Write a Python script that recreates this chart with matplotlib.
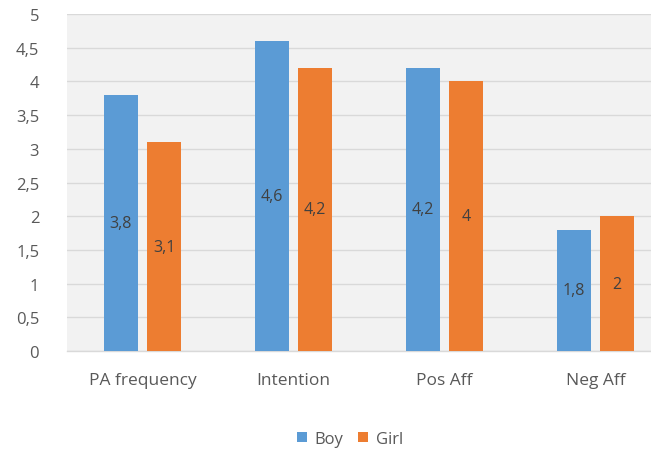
import matplotlib
matplotlib.use("Agg")
import matplotlib.pyplot as plt
import numpy as np

categories = ["PA frequency", "Intention", "Pos Aff", "Neg Aff"]
boy = [3.8, 4.6, 4.2, 1.8]
girl = [3.1, 4.2, 4.0, 2.0]
series_names = ["Boy", "Girl"]
y_ticks = [0, 0.5, 1, 1.5, 2, 2.5, 3, 3.5, 4, 4.5, 5]

def fmt(v):
    s = f"{v:g}"
    return s.replace(".", ",")

plt.rcParams["font.family"] = ["Open Sans", "DejaVu Sans"]

W, H = 651, 452
fig = plt.figure(figsize=(W / 100, H / 100), dpi=100)
fig.patch.set_facecolor("white")

left, right, top, bottom = 67, 671, 15, 352
ax = fig.add_axes([left / W, 1 - bottom / H, (right - left) / W, (bottom - top) / H])
ax.set_facecolor("#F2F2F2")

x = np.arange(len(categories))
w = 0.225
off = 0.1425
colors = ["#5B9BD5", "#ED7D31"]
b1 = ax.bar(x - off, boy, w, color=colors[0], label=series_names[0], zorder=3)
b2 = ax.bar(x + off, girl, w, color=colors[1], label=series_names[1], zorder=3)

for bars, vals in ((b1, boy), (b2, girl)):
    for r, v in zip(bars, vals):
        ax.text(r.get_x() + r.get_width() / 2, v / 2, fmt(v), ha="center", va="center",
                fontsize=11.5, color="#404040", zorder=4)

ax.set_xlim(-0.5, len(categories) - 0.5)
ax.set_ylim(0, 5)
ax.set_yticks(y_ticks)
ax.set_yticklabels([fmt(t) for t in y_ticks])
ax.set_xticks(x)
ax.set_xticklabels(categories)
ax.yaxis.grid(True, color="#D9D9D9", linewidth=1, zorder=0)
ax.set_axisbelow(True)
for s in ("top", "right", "left"):
    ax.spines[s].set_visible(False)
ax.spines["bottom"].set_color("#D9D9D9")
ax.spines["bottom"].set_linewidth(1)
ax.tick_params(axis="both", length=0, labelcolor="#595959")
ax.tick_params(axis="y", pad=20, labelsize=12)
ax.tick_params(axis="x", pad=15, labelsize=12.5)

fig.legend(handles=[b1, b2], loc="center", bbox_to_anchor=(350 / W, 1 - 440 / H),
           ncol=2, frameon=False, fontsize=12, handlelength=0.6, handleheight=0.6,
           handletextpad=0.45, columnspacing=0.9, labelcolor="#595959")

fig.savefig("out.png", dpi=100, facecolor="white")
